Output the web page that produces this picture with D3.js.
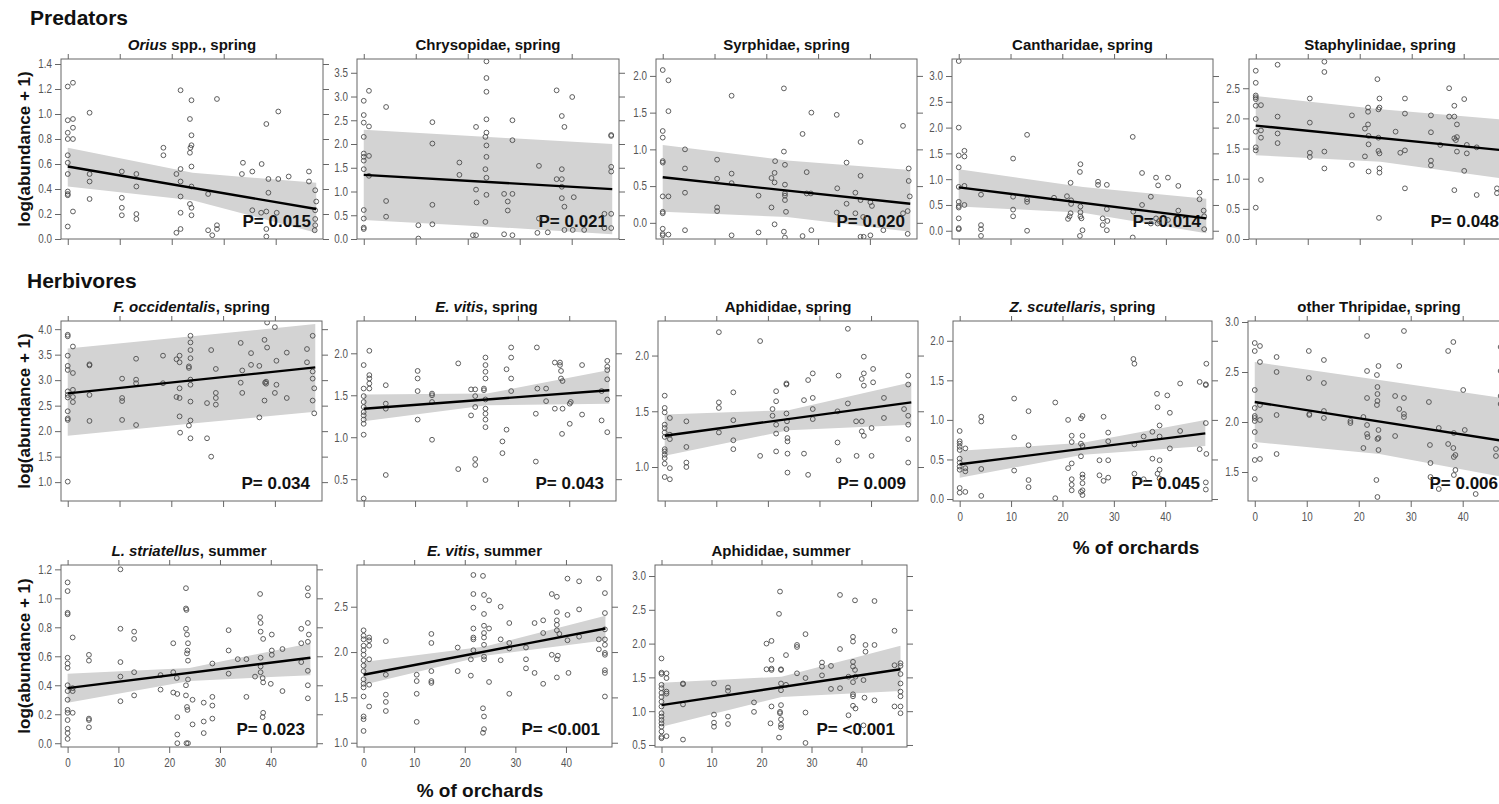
<!DOCTYPE html>
<html><head><meta charset="utf-8">
<script src="https://cdn.jsdelivr.net/npm/d3@7"></script>
<style>body{margin:0;background:#fff}svg{display:block}</style>
</head><body><svg id="c" width="1499" height="804"></svg>
<script>
// ---------------- DATA ----------------
const X_TICKS = [0, 10, 20, 30, 40];
const X_DOMAIN = [-1.3, 49.1];

const oriusSpring = [[0,1.22],[1,1.25],[0,0.95],[1,0.96],[1,0.89],[0,0.85],[0,0.80],[1,0.80],[0,0.67],[0,0.61],[0,0.52],[0,0.38],[0,0.36],[0,0.35],[0,0.10],[1,0.22],
[4.2,1.01],[4.2,0.52],[4.2,0.46],[4.2,0.32],[10.4,0.54],[10.4,0.33],[10.4,0.25],[10.4,0.19],[13.2,0.52],[13.2,0.42],[13.2,0.20],[13.2,0.16],[18.4,0.73],[18.4,0.67],
[20.9,0.52],[21.7,0.56],[21.7,0.46],[21.7,0.34],[21.7,0.21],[20.9,0.05],[21.7,0.08],[21.7,1.19],
[23.8,1.11],[23.5,0.96],[23.8,0.83],[23.8,0.75],[23.6,0.73],[23.5,0.69],[23.8,0.58],[23.8,0.42],[23.5,0.28],[23.8,0.25],[23.8,0.19],
[27,0.36],[27,0.07],[27.8,0.03],[28.7,0.08],[28.7,0.11],[28.7,1.12],[33.7,0.61],[33.5,0.52],[35.5,0.54],[37.3,0.60],
[35.5,0.23],[37.2,0.21],[38.2,0.22],[38.2,0.92],[38.6,0.48],[38.6,0.37],[38.2,0.08],[38.2,0.02],[40.5,1.02],[40.5,0.48],[40.2,0.21],[42.5,0.50],
[46.4,0.54],[46.4,0.46],[47.6,0.39],[47.8,0.30],[47.6,0.23],[47.6,0.16],[47.6,0.11],[47.5,0.07]];
const chrysoSpring = [[0,2.91],[1,3.12],[0,2.61],[0,2.45],[1,2.37],[0,2.15],[0,1.80],[0,1.73],[1,1.75],[0,1.65],[0,1.47],[1,1.33],[0,0.61],[0,0.43],[0,0.24],[0,0.21],
[4.3,2.78],[4.3,0.80],[4.3,0.47],[10.5,0.29],[10.5,0.01],[13.2,2.46],[13.2,2.01],[13.2,0.72],[13.2,0.31],[18.4,1.61],[18.4,1.35],
[21.6,2.36],[21.6,1.04],[21.7,0.77],[21,0.08],[21.6,0.08],
[23.6,3.74],[23.6,3.39],[23.6,3.10],[23.6,2.52],[23.6,2.24],[23.4,2.15],[23.6,1.97],[23.6,1.73],[23.4,1.47],[23.6,1.29],[23.6,0.93],[23.4,0.36],
[27,0.95],[27.7,0.79],[27.7,0.60],[28.6,0.95],[28.6,2.50],[28.6,2.08],[27,0.10],[28.6,0.08],[33.7,1.54],[33.7,0.43],[33.4,0.13],[35.4,0.14],
[37.1,3.13],[38.1,2.59],[38.6,2.36],[38.1,1.47],[37.1,1.26],[38.1,1.26],[38.1,1.10],[38.1,0.86],[38.6,0.68],[38.6,0.19],[40.1,2.99],[40.4,0.88],[40.2,0.19],[42.4,0.19],
[47.6,2.17],[47.6,2.19],[47.6,1.52],[47.6,1.42],[46.3,0.53],[47.6,0.53],[46.3,0.23],[47.6,0.23]];
const syrphSpring = [[0,2.08],[1.1,1.94],[1.1,1.52],[0,1.25],[0,1.16],[0,0.84],[0,0.82],[0,0.36],[1.1,0.36],[0,0.15],[0,0.13],[0,-0.08],[0,-0.15],[0,-0.17],[1.1,-0.16],
[4.3,1.0],[4.3,0.74],[4.3,0.41],[4.3,-0.10],[10.5,0.86],[10.5,0.60],[10.5,0.21],[10.5,0.16],[13.3,1.73],[13.3,0.67],[13.3,0.54],[13.3,-0.17],[18.5,0.37],[18.5,-0.13],
[21,0.61],[21,0.21],[21.6,0.68],[21.7,0.84],[21.6,0.55],[21.6,-0.02],
[23.4,1.83],[23.4,0.97],[23.6,0.79],[23.6,0.52],[23.6,0.40],[23.6,0.37],[23.6,0.31],[23.8,0.15],[23.4,-0.12],[23.6,-0.20],
[27,1.21],[27.8,0.69],[27.8,0.40],[28.6,0.40],[28.7,1.50],[28.7,-0.10],[27,-0.18],[33.6,1.47],[33.7,0.47],[33.6,0.14],[35.5,0.82],[35.5,0.26],
[37.2,0.41],[37.2,0.13],[38.2,1.10],[38.2,0.64],[38.2,0.31],[38.7,0.08],[38.2,-0.19],[38.8,-0.19],[40.1,-0.17],[40.4,0.23],[40.1,0.28],[42.6,-0.10],
[46.4,1.32],[47.5,0.74],[47.5,0.57],[47.7,0.36],[46.4,0.13],[47.3,0.16],[47.3,-0.15]];
const canthSpring = [[0,3.29],[0,2.0],[0,1.46],[1.1,1.55],[1.1,1.44],[0,1.23],[0,0.85],[1.1,0.87],[0,0.56],[0,0.48],[0,0.45],[1.1,0.50],[0,0.24],[0,0.05],[0,0.03],
[4.3,0.70],[4.3,0.11],[4.3,0.03],[4.3,-0.10],[10.5,1.40],[10.5,0.66],[10.5,0.41],[10.5,0.28],[13.2,1.86],[13.2,0.61],[13.2,0.56],[13.2,0.0],[18.4,0.64],
[20.9,0.67],[21.1,0.23],[21.6,0.93],[21.7,0.59],[21.7,0.52],[21.6,0.34],[21.4,0.28],
[23.5,1.29],[23.4,1.14],[23.5,0.47],[23.5,0.36],[23.5,0.28],[23.7,0.24],[23.9,0.01],[23.4,-0.10],
[26.9,0.95],[26.9,0.89],[28.6,0.89],[28.6,0.42],[27.8,0.24],[27.8,0.11],[28.7,0.19],[28.6,0.01],[33.6,1.82],[33.7,0.37],[33.6,-0.13],
[35.4,1.12],[35.4,0.50],[37.1,0.66],[38.1,1.03],[38.5,0.88],[37.1,0.14],[38.1,0.24],[38.4,0.14],[38.7,0.19],[40.4,1.03],[40.4,0.21],[42.4,0.87],[42.4,0.39],
[46.5,0.74],[46.5,0.61],[47.3,0.39],[47.4,0.28],[47.4,0.03]];
const staphSpring = [[0,2.79],[0,2.59],[0,2.38],[0,2.35],[0,2.32],[0,2.21],[1,2.22],[0,1.99],[0,1.78],[1,1.80],[1,1.68],[0,1.52],[0,1.47],[1,0.98],[0,0.52],
[4.2,2.89],[4.2,2.03],[4.2,1.75],[4.2,1.59],[10.4,2.33],[10.4,1.93],[10.4,1.43],[10.4,1.36],[13.2,2.94],[13.2,2.77],[13.2,1.45],[13.2,1.17],[18.5,2.05],[18.5,1.23],
[21,1.83],[21,1.37],[21.6,1.90],[21.6,2.18],[21.6,2.11],[21.7,1.71],[21.7,1.57],[21.7,1.12],
[23.4,2.65],[23.8,2.33],[23.8,2.18],[23.6,2.15],[23.6,1.68],[23.6,1.46],[23.8,1.42],[23.8,1.17],[23.8,1.10],[23.7,0.35],
[26.9,1.78],[27.8,1.43],[28.7,2.33],[28.7,2.08],[28.7,1.47],[28.7,0.84],[33.7,2.05],[33.7,1.77],[33.7,1.30],[33.7,1.22],
[35.5,1.56],[37.2,2.50],[37.2,2.03],[38.2,2.03],[38.2,2.21],[38.7,1.90],[38.2,1.67],[38.7,1.69],[38.5,1.64],[38.7,1.45],[38.2,0.81],[40.1,2.32],[40.6,1.56],[40.6,1.42],[40.1,1.13],[42.5,1.52],[42.5,0.73],
[46.4,0.84],[46.4,0.76]];
const foccSpring = [[0,3.89],[0,3.86],[1,3.66],[0,3.48],[0,3.28],[0,3.20],[1,3.14],[0,2.78],[1,2.81],[0,2.71],[0,2.66],[1,2.67],[1,2.57],[0,2.39],[0,2.25],[0,2.22],[0,1.01],
[4.2,3.31],[4.2,3.29],[4.2,2.71],[4.2,2.20],[10.5,3.03],[10.5,2.65],[10.5,2.59],[10.5,2.22],[13.2,3.42],[13.2,3.01],[13.2,2.94],[13.2,2.12],[18.4,3.48],[18.4,2.94],
[21,3.41],[21.6,3.48],[21.6,3.35],[21.6,2.84],[21,2.67],[21.6,2.65],[21.6,2.29],[21.7,1.97],
[23.7,3.87],[23.7,3.74],[23.7,3.59],[23.7,3.43],[23.4,3.27],[23.4,3.24],[23.7,3.01],[23.7,2.91],[23.7,2.58],[23.7,2.21],[23.4,2.11],[23.7,1.86],
[26.9,2.55],[26.9,1.86],[27.7,3.59],[27.7,1.50],[28.6,3.22],[28.6,2.75],[28.6,2.65],[28.6,2.52],[33.4,3.73],[33.4,2.95],[33.7,3.19],[33.7,2.75],
[35.4,3.53],[35.4,3.30],[37,3.28],[37,2.27],[38,3.79],[38.5,3.64],[38.1,2.95],[38.3,2.93],[38.3,2.97],[38,2.60],[38.5,4.13],
[40,4.04],[40.3,3.38],[40.3,2.91],[40,2.75],[42.3,3.54],[42.3,2.65],
[46.2,3.61],[46.2,3.35],[47.3,3.87],[47.3,3.17],[47.3,3.03],[47.6,2.84],[47.3,2.60],[47.6,2.35]];
const evitSpring = [[0,1.86],[0,1.58],[0,1.49],[0,1.42],[0,1.36],[0,1.30],[0,1.26],[0,1.21],[0,1.16],[0,1.03],[0,0.27],[1.1,2.03],[1.1,1.74],[1.1,1.70],[1.1,1.64],[1.1,1.58],
[4.3,1.62],[4.3,1.40],[4.3,1.34],[4.3,0.55],[10.5,1.79],[10.5,1.70],[10.5,1.55],[10.5,1.21],[13.3,1.52],[13.3,1.50],[13.3,1.42],[13.3,0.97],[18.4,1.88],[18.4,0.62],
[20.9,1.26],[20.9,1.57],[21.7,1.57],[21.7,1.49],[21.7,1.36],[21.7,0.74],[21.7,0.67],
[23.7,1.95],[23.7,1.86],[23.7,1.78],[23.7,1.70],[23.4,1.58],[23.4,1.56],[23.7,1.45],[23.7,1.34],[23.7,1.28],[23.7,1.21],[23.7,1.12],[23.7,0.49],
[27,0.95],[27,0.81],[27.8,1.81],[27.8,1.09],[28.7,2.07],[28.7,1.95],[28.7,1.70],[28.7,1.55],[33.7,2.07],[33.8,1.58],[33.5,1.28],[33.5,0.71],[35.5,1.58],[35.5,1.43],
[37.2,1.89],[37.2,1.34],[38.2,1.89],[38.2,1.86],[38.4,1.79],[38.7,1.67],[38.4,1.70],[38.7,1.34],[38.6,1.04],[40.1,1.40],[40.3,1.42],[40.1,1.16],[42.5,1.86],[42.5,1.27],
[47.4,1.91],[47.4,1.84],[47.4,1.80],[47.4,1.69],[46.3,1.55],[47.4,1.45],[46.3,1.20],[47.4,1.06]];
const aphidSpring = [[0,1.64],[0,1.53],[0,1.49],[0,1.38],[0,1.35],[0,1.31],[0,1.27],[0,1.16],[0,1.14],[0,1.11],[0,1.08],[0,1.03],[0,0.91],[1,1.44],[1,1.29],[1,1.25],[1,0.99],[1,0.89],
[4.2,1.41],[4.2,1.18],[4.2,1.04],[4.2,1.00],[10.5,2.21],[10.5,1.58],[10.5,1.53],[10.5,1.31],[13.3,1.67],[13.3,1.42],[13.3,1.24],[13.3,1.16],[18.5,2.13],[18.5,1.10],
[20.9,1.52],[20.9,1.46],[21.6,1.68],[21.6,1.59],[21.6,1.38],[21.6,1.30],[21.6,1.14],
[23.6,1.75],[23.6,1.74],[23.6,1.48],[23.7,1.41],[23.6,1.34],[23.8,1.26],[23.8,1.23],[23.8,1.12],[23.8,0.95],
[27,1.60],[27,1.12],[27.8,1.78],[27.8,0.93],[28.7,1.84],[28.7,1.62],[28.7,1.52],[28.7,1.43],[33.7,1.82],[33.5,1.50],[33.5,1.22],[33.7,1.06],[35.5,2.24],[35.5,1.57],
[37.1,1.41],[37.2,1.10],[38.2,1.79],[38.2,1.41],[38.2,1.32],[38.6,1.99],[38.6,1.84],[38.6,1.73],[38.6,1.28],[40.1,1.35],[40.1,1.10],[40.4,1.88],[40.4,1.76],[42.5,1.62],[42.5,1.44],
[46.4,1.52],[47.2,1.82],[47.2,1.74],[47.2,1.46],[47.2,1.38],[47.2,1.25],[47.2,1.04]];
const zscutSpring = [[0,0.86],[0,0.73],[0,0.70],[0,0.66],[0,0.62],[0,0.51],[0,0.46],[0,0.41],[0,0.37],[0,0.14],[0,0.08],[1.1,0.64],[1.1,0.39],[1.1,0.35],[1.1,0.09],
[4.2,1.04],[4.2,0.98],[4.2,0.38],[4.2,0.04],[10.6,1.27],[10.6,0.78],[10.6,0.36],[13.4,1.11],[13.4,0.68],[13.4,0.24],[13.4,0.15],[18.6,1.22],[18.6,0.01],
[21.1,1.00],[21.1,0.39],[21.8,0.45],[21.8,0.80],[21.8,0.72],[21.8,0.25],[21.8,0.18],[21.8,0.11],
[23.6,1.02],[23.9,1.05],[23.6,0.70],[23.6,0.54],[23.9,0.80],[23.9,0.67],[23.9,0.31],[23.9,0.27],[23.9,0.20],[23.9,0.11],[23.6,0.09],[23.9,0.05],
[27.2,0.49],[27.2,0.30],[28,0.23],[28.9,0.84],[28.9,0.73],[28.9,0.49],[28.9,0.27],[28,1.04],[33.8,1.77],[34,1.71],[34,0.69],[34,0.32],[35.8,0.79],[35.8,0.25],
[37.5,0.85],[37.5,0.51],[38.4,1.33],[38.5,1.16],[38.9,0.93],[38.9,0.79],[38.9,0.49],[38.9,0.37],[38.5,0.32],[38.9,0.26],[40.4,1.31],[40.9,1.09],[40.9,0.64],[42.9,1.46],[42.9,0.86],
[46.7,1.48],[46.7,0.63],[47.9,1.45],[47.9,1.44],[48,1.71],[47.9,0.96],[48,0.57],[47.9,0.21],[47.9,0.12]];
const othThripSpring = [[0,2.79],[0,2.71],[1,2.76],[1,2.60],[0,2.32],[0,2.14],[1,2.17],[0,2.06],[0,2.04],[0,2.01],[1,2.02],[0,1.90],[0,1.76],[0,1.62],[1,1.63],[0,1.43],
[4.2,2.65],[4.2,2.50],[4.2,2.07],[4.2,1.68],[10.4,2.71],[10.4,2.44],[10.5,2.08],[10.5,2.07],[13.3,2.62],[13.3,2.39],[13.3,2.11],[13.3,2.04],[18.4,2.01],[18.4,1.99],
[20.9,2.05],[20.9,1.74],[21.6,2.86],[21.6,2.51],[21.6,2.24],[21.6,1.97],[21.6,1.88],[21.7,1.85],
[23.5,2.47],[23.5,2.17],[23.8,2.56],[23.6,2.35],[23.6,2.28],[23.6,2.21],[23.8,1.92],[23.8,1.84],[23.6,1.83],[23.8,1.72],[23.4,1.42],[23.6,1.25],
[27,2.26],[27,1.86],[27.8,2.56],[27.8,2.13],[28.7,2.24],[28.7,2.08],[28.7,2.05],[28.7,2.91],[33.5,2.20],[33.7,1.77],[33.8,1.59],[33.8,1.45],[35.4,1.94],[35.4,1.33],
[37.2,2.71],[38.2,2.80],[37.2,1.78],[38.2,1.74],[38.3,1.65],[38.6,1.67],[38.6,1.52],[38.3,1.47],[38.3,1.89],[40.1,2.32],[40.4,1.92],[42.5,1.28],
[46.4,1.73],[46.4,1.66],[47.3,2.75],[47.3,2.26],[47.3,2.18],[47.3,2.51]];
const lstriSummer = [[0,1.11],[0,1.05],[0,0.90],[0,0.89],[0,0.59],[0,0.55],[0,0.52],[0,0.40],[0,0.36],[0,0.30],[0,0.23],[0,0.21],[0,0.16],[0,0.10],[0,0.07],[0,0.03],[1,0.73],[1,0.38],[1,0.36],[1,0.21],
[4.2,0.61],[4.2,0.57],[4.2,0.17],[4.2,0.16],[4.2,0.11],[10.4,1.20],[10.4,0.79],[10.4,0.56],[10.4,0.46],[10.4,0.29],[13.1,0.77],[13.1,0.72],[13.1,0.49],[13.1,0.33],[18.3,0.47],[18.3,0.37],
[20.8,0.69],[20.8,0.49],[20.8,0.35],[21.6,0.34],[21.5,0.45],[21.6,0.18],[21.6,0.06],[21.6,0.0],
[23.3,1.07],[23.3,0.93],[23.4,0.92],[23.3,0.79],[23.5,0.75],[23.7,0.69],[23.6,0.64],[23.5,0.62],[23.7,0.57],[23.7,0.44],[23.3,0.40],[23.3,0.33],[23.5,0.25],[23.6,0.23],[23.4,0.0],[23.7,0.0],[24.6,0.30],[24.6,0.13],
[26.8,0.28],[26.8,0.15],[26.8,0.07],[28.5,0.55],[28.5,0.32],[28.5,0.26],[28.5,0.17],[31.7,0.78],[31.7,0.64],[31.7,0.48],[33.5,0.58],[35.2,0.58],[35.2,0.32],[36.9,0.46],
[37.9,1.03],[37.9,0.87],[38,0.83],[38,0.77],[38,0.59],[38,0.53],[38,0.49],[38.5,0.72],[38.4,0.45],[38.5,0.42],[38.5,0.21],[38.4,0.18],[40.2,0.75],[40.2,0.64],[40.2,0.61],[40,0.41],[42.3,0.65],[42.3,0.36],
[46,0.79],[46,0.69],[46,0.56],[47.3,1.07],[47.3,1.02],[47.3,0.83],[47.5,0.75],[47.3,0.70],[47.3,0.50],[47.3,0.40],[47.3,0.31]];
const evitSummer = [[0,2.24],[0,2.18],[0,2.14],[0,2.07],[0,2.02],[0,1.97],[0,1.91],[0,1.85],[0,1.79],[0,1.70],[0,1.65],[0,1.61],[0,1.51],[0,1.29],[0,1.26],[0,1.13],[1.1,2.16],[1.1,2.13],[1.1,2.07],[1.1,1.92],[1.1,1.64],[1.1,1.40],
[4.4,2.12],[4.4,1.75],[4.4,1.53],[4.4,1.45],[4.4,1.35],[10.5,1.75],[10.5,1.68],[10.5,1.54],[10.5,1.23],[13.4,2.20],[13.4,2.10],[13.4,1.79],[13.4,1.68],[13.4,1.66],[18.6,2.05],[18.6,1.79],
[21.2,1.92],[21.2,1.74],[21.7,2.85],[21.7,2.64],[21.7,2.49],[21.7,2.26],[21.7,2.16],[21.7,2.14],[21.7,2.02],
[23.6,2.84],[23.8,2.63],[23.8,2.42],[23.8,2.29],[23.8,2.21],[23.8,2.16],[23.8,2.08],[23.8,1.95],[23.8,1.92],[23.6,1.38],[23.8,1.29],[23.8,1.15],[23.6,1.11],[24.8,2.57],[24.8,2.26],[24.8,1.67],
[27.1,2.50],[27.1,2.14],[27.1,1.91],[28.8,2.32],[28.8,2.10],[28.8,2.04],[28.8,1.54],[32.1,2.05],[32.1,1.92],[32.1,1.82],[33.8,2.32],[33.8,1.77],[35.5,2.35],[35.5,2.21],[35.5,1.65],
[37.2,1.97],[37.2,2.64],[38.2,2.61],[38.2,2.44],[38.2,2.35],[38.2,2.30],[38.2,2.24],[38.7,2.20],[38.4,1.96],[38.2,1.92],[38.2,1.72],[40.3,2.81],[40.3,2.41],[40.3,2.13],[40.5,1.77],[42.6,2.78],[42.6,2.17],[42.6,2.47],
[46.5,2.81],[46.5,2.03],[46.5,2.14],[47.7,2.65],[47.7,2.43],[47.7,2.25],[47.7,2.14],[47.7,2.08],[47.7,1.99],[47.7,1.97],[47.7,1.80],[47.7,1.77],[47.7,1.51]];
const aphidSummer = [[0,1.78],[0,1.57],[0,1.55],[0,1.39],[0,1.34],[0,1.27],[0,1.21],[0,1.14],[0,1.07],[0,0.97],[0,0.92],[0,0.87],[0,0.82],[0,0.77],[0,0.70],[0,0.62],[0,0.60],[1,1.56],[1,1.49],[1,1.29],[1,1.26],[1,0.63],
[4.3,1.41],[4.3,1.40],[4.3,1.10],[4.3,0.58],[10.5,1.41],[10.5,0.95],[10.5,0.83],[10.5,0.77],[13.3,1.35],[13.3,1.30],[13.3,0.92],[13.3,0.81],[18.5,1.13],[18.5,0.99],
[21,2.00],[22,2.04],[21,1.62],[22,1.76],[22,1.63],[22,1.61],[22,1.07],[21.8,0.82],
[23.7,2.77],[23.5,2.44],[23.9,1.62],[23.9,1.61],[23.9,1.41],[23.9,1.31],[23.9,1.09],[23.7,0.99],[23.7,0.97],[23.9,0.88],[23.9,0.80],[23.9,0.76],[23.5,0.61],[24.9,1.83],[24.9,1.39],
[27.1,1.56],[27.1,1.98],[27.1,1.95],[28.8,2.14],[28.8,1.49],[28.8,0.98],[28.8,0.53],[32.1,1.72],[32.1,1.66],[32.1,1.53],[33.9,1.67],[33.9,1.33],[35.7,2.72],[35.7,1.92],[35.7,1.34],
[37.4,1.51],[37.4,0.94],[38.3,2.10],[38.3,2.03],[38.3,1.73],[38.3,1.66],[38.3,1.43],[38.3,1.25],[38.3,1.22],[38.3,1.08],[38.7,2.64],[38.7,1.61],[38.8,1.51],[38.8,1.04],[40.8,1.98],[40.8,1.88],[40.4,1.46],[40.6,1.20],[40.4,0.79],[42.6,2.63],[42.6,1.98],[42.6,1.16],
[46.6,2.19],[46.6,1.68],[46.6,1.07],[47.8,1.71],[47.8,1.67],[47.8,1.55],[47.8,1.41],[47.8,1.29],[47.8,1.22],[47.8,1.07],[47.8,0.97]];

// fitted lines [x, y] and confidence bands [x, y]
const fitOrius = [[0,0.58],[47.8,0.24]], loOrius = [[0,0.42],[24,0.31],[47.8,0.05]], hiOrius = [[0,0.73],[24,0.53],[47.8,0.45]];
const fitChryso = [[0,1.35],[47.8,1.05]], loChryso = [[0,0.40],[24,0.26],[47.8,0.10]], hiChryso = [[0,2.30],[24,2.15],[47.8,2.0]];
const fitSyrph = [[0,0.62],[47.8,0.26]], loSyrph = [[0,0.15],[24,0.08],[47.8,-0.12]], hiSyrph = [[0,1.06],[24,0.85],[47.8,0.72]];
const fitCanth = [[0,0.84],[47.8,0.24]], loCanth = [[0,0.47],[24,0.35],[47.8,-0.05]], hiCanth = [[0,1.19],[24,0.85],[47.8,0.62]];
const fitStaph = [[0,1.88],[47.8,1.47]], loStaph = [[0,1.39],[24,1.28],[47.8,1.0]], hiStaph = [[0,2.37],[24,2.15],[47.8,1.98]];
const fitFocc = [[0,2.74],[47.8,3.25]], loFocc = [[0,1.91],[24,2.15],[47.8,2.38]], hiFocc = [[0,3.62],[24,3.86],[47.8,4.10]];
const fitEvitSp = [[0,1.34],[47.8,1.56]], loEvitSp = [[0,1.19],[24,1.38],[47.8,1.40]], hiEvitSp = [[0,1.51],[24,1.52],[47.8,1.80]];
const fitAphSp = [[0,1.28],[47.8,1.58]], loAphSp = [[0,1.10],[24,1.33],[47.8,1.38]], hiAphSp = [[0,1.47],[24,1.51],[47.8,1.76]];
const fitZscut = [[0,0.44],[47.8,0.83]], loZscut = [[0,0.27],[24,0.56],[47.8,0.67]], hiZscut = [[0,0.61],[24,0.71],[47.8,1.0]];
const fitThrip = [[0,2.20],[47.8,1.81]], loThrip = [[0,1.80],[24,1.68],[47.8,1.45]], hiThrip = [[0,2.60],[24,2.42],[47.8,2.24]];
const fitLstri = [[0,0.38],[47.8,0.59]], loLstri = [[0,0.28],[24,0.43],[47.8,0.47]], hiLstri = [[0,0.48],[24,0.52],[47.8,0.69]];
const fitEvitSu = [[0,1.75],[47.8,2.26]], loEvitSu = [[0,1.64],[24,1.96],[47.8,2.13]], hiEvitSu = [[0,1.89],[24,2.06],[47.8,2.40]];
const fitAphSu = [[0,1.09],[47.8,1.62]], loAphSu = [[0,0.77],[24,1.21],[47.8,1.30]], hiAphSu = [[0,1.42],[24,1.51],[47.8,1.97]];

// titles: [text, italic]
const titles = [
  [["Orius",1],[" spp., spring",0]], [["Chrysopidae, spring",0]], [["Syrphidae, spring",0]], [["Cantharidae, spring",0]], [["Staphylinidae, spring",0]],
  [["F. occidentalis",1],[", spring",0]], [["E. vitis",1],[", spring",0]], [["Aphididae, spring",0]], [["Z. scutellaris",1],[", spring",0]], [["other Thripidae, spring",0]],
  [["L. striatellus",1],[", summer",0]], [["E. vitis",1],[", summer",0]], [["Aphididae, summer",0]]
];
const pLabels = ["P= 0.015","P= 0.021","P= 0.020","P= 0.014","P= 0.048","P= 0.034","P= 0.043","P= 0.009","P= 0.045","P= 0.006","P= 0.023","P= <0.001","P= <0.001"];
const yDomains = [[0,1.44],[0,3.79],[-0.22,2.23],[-0.16,3.33],[0,2.985],[0.63,4.16],[0.24,2.385],[0.695,2.31],[-0.025,2.25],[1.21,3.01],[-0.026,1.23],[0.953,2.96],[0.47,3.163]];
const yTickValues = [
  [0,0.2,0.4,0.6,0.8,1.0,1.2,1.4],[0,0.5,1,1.5,2,2.5,3,3.5],[0,0.5,1,1.5,2],[0,0.5,1,1.5,2,2.5,3],[0,0.5,1,1.5,2,2.5],
  [1,1.5,2,2.5,3,3.5,4],[0.5,1,1.5,2],[1,1.5,2],[0,0.5,1,1.5,2],[1.5,2,2.5,3],
  [0,0.2,0.4,0.6,0.8,1.0,1.2],[1,1.5,2,2.5],[0.5,1,1.5,2,2.5,3]
];
const series = [oriusSpring,chrysoSpring,syrphSpring,canthSpring,staphSpring,foccSpring,evitSpring,aphidSpring,zscutSpring,othThripSpring,lstriSummer,evitSummer,aphidSummer];
const fits = [fitOrius,fitChryso,fitSyrph,fitCanth,fitStaph,fitFocc,fitEvitSp,fitAphSp,fitZscut,fitThrip,fitLstri,fitEvitSu,fitAphSu];
const bandsLo = [loOrius,loChryso,loSyrph,loCanth,loStaph,loFocc,loEvitSp,loAphSp,loZscut,loThrip,loLstri,loEvitSu,loAphSu];
const bandsHi = [hiOrius,hiChryso,hiSyrph,hiCanth,hiStaph,hiFocc,hiEvitSp,hiAphSp,hiZscut,hiThrip,hiLstri,hiEvitSu,hiAphSu];

// ---------------- LAYOUT ----------------
const layout = [
  {x0:61,x1:323,y0:59,y1:239,lab:0},{x0:357,x1:619,y0:59,y1:239,lab:0},{x0:656,x1:917,y0:59,y1:239,lab:0},{x0:952,x1:1213,y0:59,y1:239,lab:0},{x0:1249,x1:1511,y0:59,y1:239,lab:0},
  {x0:61,x1:322,y0:321,y1:501,lab:0},{x0:357,x1:616,y0:321,y1:501,lab:0},{x0:658,x1:918,y0:321,y1:501,lab:0},{x0:953,x1:1212,y0:321,y1:501,lab:1},{x0:1248,x1:1510,y0:321,y1:501,lab:1},
  {x0:61,x1:317,y0:565,y1:747,lab:1},{x0:357,x1:612,y0:565,y1:747,lab:1},{x0:655,x1:907,y0:565,y1:747,lab:1}
];
const FRAME = "#666", TICKTXT = "#555";
const bold = "'Liberation Sans',Arial,Helvetica,sans-serif";
// condensed tick font: use a narrow face if present, otherwise squeeze the regular face
const cv = document.createElement("canvas").getContext("2d");
cv.font = "12px 'Liberation Sans Narrow', monospace"; const wN = cv.measureText("0123456789").width;
cv.font = "12px monospace"; const wM = cv.measureText("0123456789").width;
const hasNarrow = Math.abs(wN - wM) > 0.5;
const tickFont = hasNarrow ? "'Liberation Sans Narrow',sans-serif" : "'Liberation Sans',Arial,sans-serif";
const squeeze = hasNarrow ? 1 : 0.82;

const svg = d3.select("#c");
const defs = svg.append("defs");
const fmt1 = d3.format(".1f");

series.forEach((pts, i) => {
  const L = layout[i];
  const x = d3.scaleLinear().domain(X_DOMAIN).range([L.x0, L.x1]);
  const y = d3.scaleLinear().domain(yDomains[i]).range([L.y1, L.y0]);
  const g = svg.append("g");
  defs.append("clipPath").attr("id", "cp" + i).append("rect")
    .attr("x", L.x0).attr("y", L.y0).attr("width", L.x1 - L.x0).attr("height", L.y1 - L.y0);
  const inner = g.append("g").attr("clip-path", `url(#cp${i})`);
  const band = bandsLo[i].map((d, k) => ({x: d[0], lo: d[1], hi: bandsHi[i][k][1]}));
  inner.append("path").datum(band)
    .attr("d", d3.area().x(d => x(d.x)).y0(d => y(d.lo)).y1(d => y(d.hi)))
    .attr("fill", "#d3d3d3");
  inner.append("text").attr("x", L.x1 - 12).attr("y", L.y1 - 12)
    .attr("text-anchor", "end").style("font-family", bold).style("font-weight", "bold")
    .style("font-size", "17px").attr("fill", "#111").text(pLabels[i]);
  inner.append("g").selectAll("circle").data(pts).join("circle")
    .attr("cx", d => x(d[0])).attr("cy", d => y(d[1])).attr("r", 2.4)
    .attr("fill", "none").attr("stroke", "#4d4d4d").attr("stroke-width", 0.9);
  inner.append("path").datum(fits[i])
    .attr("d", d3.line().x(d => x(d[0])).y(d => y(d[1])))
    .attr("stroke", "#000").attr("stroke-width", 2.4).attr("fill", "none");

  const styleAxis = (sel) => {
    sel.select(".domain").remove();
    sel.selectAll("line").attr("stroke", FRAME);
    sel.selectAll("text").attr("fill", TICKTXT).style("font-family", tickFont).style("font-size", "12px");
  };
  const yl = g.append("g").attr("transform", `translate(${L.x0},0)`)
    .call(d3.axisLeft(y).tickValues(yTickValues[i]).tickFormat(fmt1).tickSize(6).tickPadding(3)).call(styleAxis);
  yl.selectAll("text").attr("transform", `translate(-9,0) scale(${squeeze},1)`).attr("x", 0);
  g.append("g").attr("transform", `translate(${L.x1},0)`)
    .call(d3.axisRight(y).tickValues(yTickValues[i]).tickFormat("").tickSize(6)).call(styleAxis);
  g.append("g").attr("transform", `translate(0,${L.y0})`)
    .call(d3.axisTop(x).tickValues(X_TICKS).tickFormat("").tickSize(5)).call(styleAxis);
  const xb = g.append("g").attr("transform", `translate(0,${L.y1})`)
    .call(d3.axisBottom(x).tickValues(X_TICKS).tickFormat(L.lab ? d3.format("d") : "").tickSize(6).tickPadding(5)).call(styleAxis);
  xb.selectAll("text").attr("transform", `scale(${squeeze},1)`);
  g.append("rect").attr("x", L.x0).attr("y", L.y0).attr("width", L.x1 - L.x0).attr("height", L.y1 - L.y0)
    .attr("fill", "none").attr("stroke", FRAME).attr("stroke-width", 1);

  const t = g.append("text").attr("x", (L.x0 + L.x1) / 2).attr("y", L.y0 - 9).attr("text-anchor", "middle")
    .style("font-family", bold).style("font-weight", "bold").style("font-size", "15px").attr("fill", "#111");
  titles[i].forEach(([s, it]) => t.append("tspan").style("font-style", it ? "italic" : "normal").text(s));
});

const label = (txt, x, yy, size, anchor, rot) => {
  const t = svg.append("text").attr("text-anchor", anchor).style("font-family", bold).style("font-weight", "bold")
    .style("font-size", size + "px").attr("fill", "#111").text(txt);
  if (rot) t.attr("transform", `translate(${x},${yy}) rotate(-90)`).attr("dy", "0.35em");
  else t.attr("x", x).attr("y", yy);
};
label("Predators", 30, 25, 21, "start");
label("Herbivores", 27, 288, 21, "start");
label("log(abundance + 1)", 24, 149, 17, "middle", true);
label("log(abundance + 1)", 24, 411, 17, "middle", true);
label("log(abundance + 1)", 24, 656, 17, "middle", true);
label("% of orchards", 1136, 554, 19, "middle");
label("% of orchards", 480, 797, 19, "middle");
</script></body></html>
